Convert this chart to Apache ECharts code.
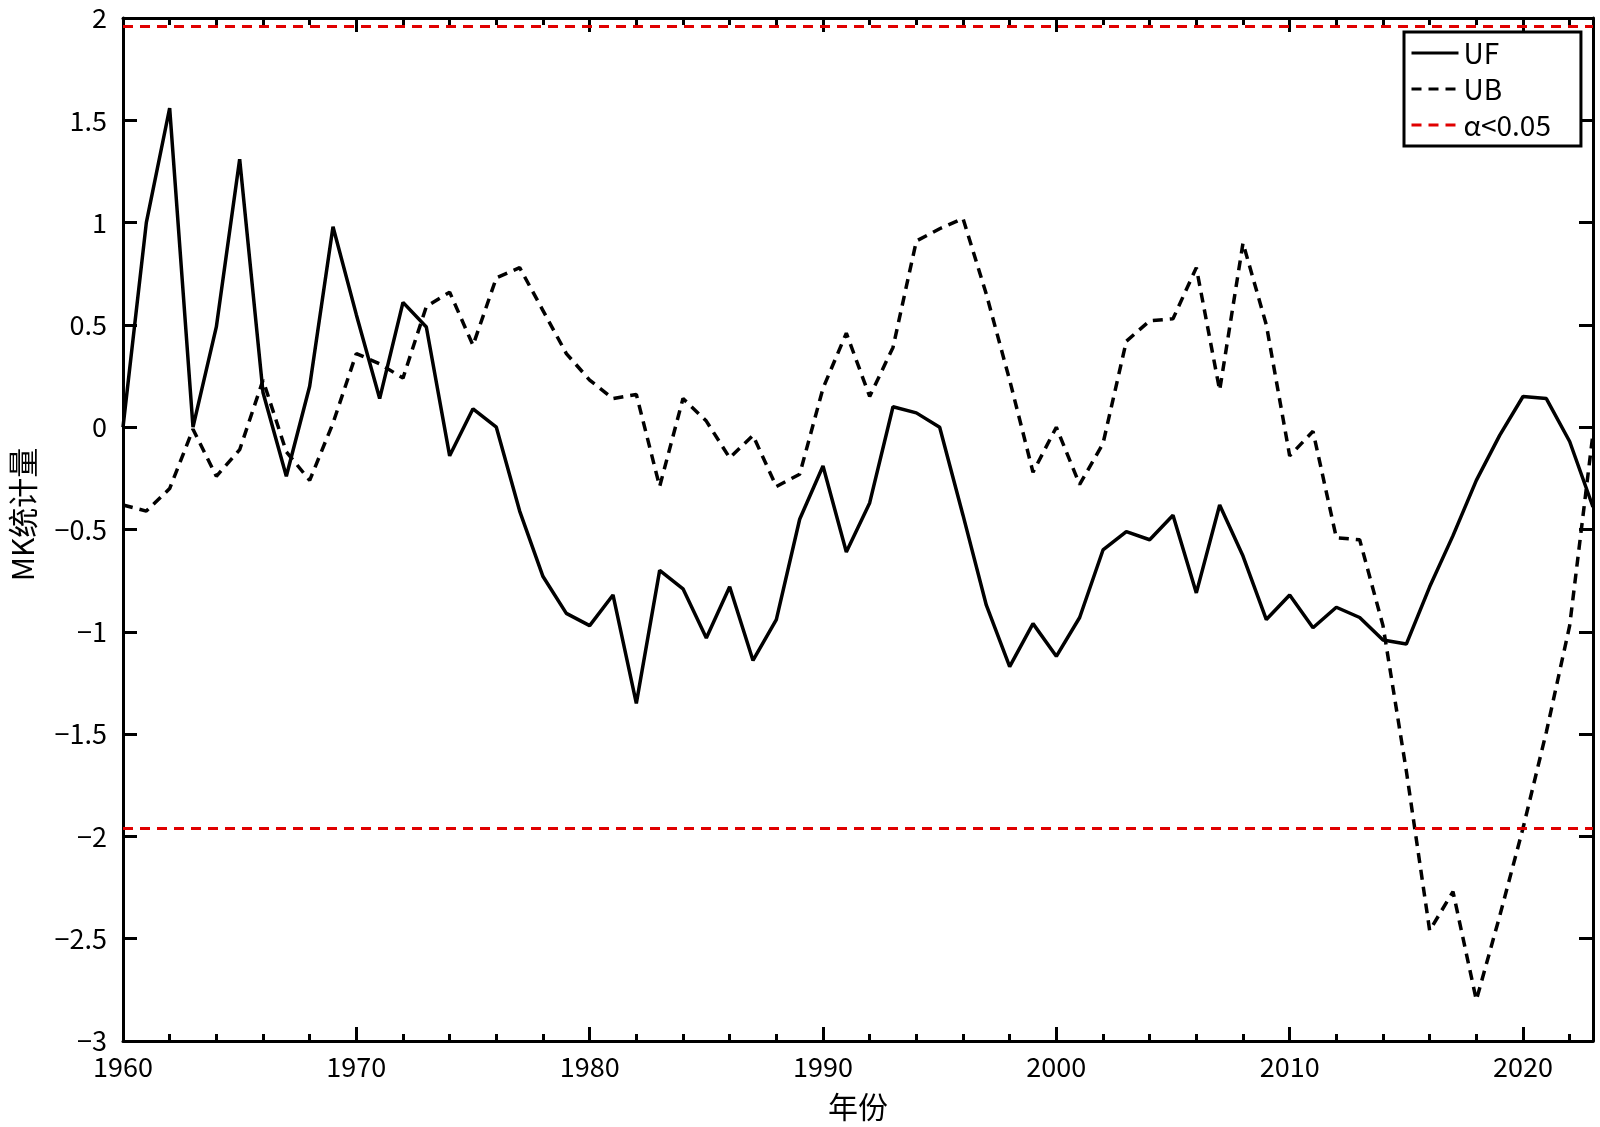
<!DOCTYPE html>
<html>
<head>
<meta charset="utf-8">
<title>MK</title>
<script src="https://cdn.jsdelivr.net/npm/echarts@6/dist/echarts.min.js"></script>
<style>
    html, body { margin: 0; padding: 0; background: #fff; }
    #chart { width: 1600px; height: 1127px; }
</style>
</head>
<body>
<div id="chart"></div>
<script>
    // 年份
    var years = [1960, 1961, 1962, 1963, 1964, 1965, 1966, 1967, 1968, 1969,
        1970, 1971, 1972, 1973, 1974, 1975, 1976, 1977, 1978, 1979,
        1980, 1981, 1982, 1983, 1984, 1985, 1986, 1987, 1988, 1989,
        1990, 1991, 1992, 1993, 1994, 1995, 1996, 1997, 1998, 1999,
        2000, 2001, 2002, 2003, 2004, 2005, 2006, 2007, 2008, 2009,
        2010, 2011, 2012, 2013, 2014, 2015, 2016, 2017, 2018, 2019,
        2020, 2021, 2022, 2023];
    // 正序列 UF
    var ufValues = [0, 1.00, 1.56, 0.00, 0.49, 1.31, 0.17, -0.24, 0.20, 0.98,
        0.55, 0.14, 0.61, 0.49, -0.14, 0.09, 0.00, -0.41, -0.73, -0.91,
        -0.97, -0.82, -1.35, -0.70, -0.79, -1.03, -0.78, -1.14, -0.94, -0.45,
        -0.19, -0.61, -0.37, 0.10, 0.07, 0.00, -0.43, -0.87, -1.17, -0.96,
        -1.12, -0.93, -0.60, -0.51, -0.55, -0.43, -0.81, -0.38, -0.63, -0.94,
        -0.82, -0.98, -0.88, -0.93, -1.04, -1.06, -0.78, -0.53, -0.26, -0.04,
        0.15, 0.14, -0.07, -0.39];
    // 逆序列 UB
    var ubValues = [-0.38, -0.41, -0.30, -0.01, -0.24, -0.11, 0.23, -0.12, -0.26, 0.02,
        0.36, 0.31, 0.24, 0.59, 0.66, 0.40, 0.73, 0.78, 0.57, 0.36,
        0.23, 0.14, 0.16, -0.29, 0.14, 0.03, -0.15, -0.04, -0.29, -0.23,
        0.19, 0.46, 0.15, 0.39, 0.91, 0.97, 1.02, 0.65, 0.23, -0.22,
        0.00, -0.28, -0.08, 0.42, 0.52, 0.53, 0.78, 0.18, 0.90, 0.50,
        -0.14, -0.02, -0.54, -0.55, -0.97, -1.68, -2.46, -2.27, -2.80, -2.39,
        -1.96, -1.49, -0.97, -0.03];
    // 显著性水平 α=0.05 临界值
    var alphaLines = [1.96, -1.96];

    var fontFamily = '"Noto Sans CJK SC", sans-serif';

    function pairs(xs, ys) {
        var out = [];
        for (var i = 0; i < xs.length; i++) {
            out.push([xs[i], ys[i]]);
        }
        return out;
    }

    function fmtY(v) {
        if (v < 0) {
            return '\u2212' + Math.abs(v);
        }
        return String(v);
    }

    var boxAxisLine = { show: true, onZero: false, lineStyle: { color: '#000', width: 3 } };
    var tickStyle = { color: '#000', width: 3 };

    var myChart = echarts.init(document.getElementById('chart'));
    myChart.setOption({
        animation: false,
        backgroundColor: '#fff',
        textStyle: { fontFamily: fontFamily },
        grid: {
            left: 117,
            right: 7,
            top: 18,
            bottom: 85
        },
        legend: {
            orient: 'vertical',
            left: 1404,
            top: 32,
            padding: [7, 30, 7, 6],
            itemWidth: 47,
            itemHeight: 14,
            itemGap: 8,
            borderColor: '#000',
            borderWidth: 3,
            backgroundColor: '#fff',
            itemStyle: { opacity: 0 },
            lineStyle: { width: 3 },
            textStyle: {
                fontFamily: fontFamily,
                fontSize: 28,
                color: '#000'
            },
            data: ['UF', 'UB', 'α<0.05']
        },
        xAxis: [{
            type: 'value',
            min: 1960,
            max: 2023,
            interval: 10,
            name: '年份',
            nameLocation: 'middle',
            nameGap: 51,
            nameTextStyle: { fontFamily: fontFamily, fontSize: 30, color: '#000' },
            axisLine: boxAxisLine,
            axisTick: { show: true, inside: true, length: 14, lineStyle: tickStyle },
            minorTick: { show: true, splitNumber: 5, length: 7, lineStyle: tickStyle },
            axisLabel: {
                margin: 12,
                fontFamily: fontFamily,
                fontSize: 27,
                color: '#000',
                showMaxLabel: false,
                formatter: function (v) { return String(v); }
            },
            splitLine: { show: false }
        }, {
            type: 'value',
            position: 'top',
            min: 1960,
            max: 2023,
            interval: 10,
            axisLine: boxAxisLine,
            axisTick: { show: true, inside: true, length: 14, lineStyle: tickStyle },
            minorTick: { show: true, splitNumber: 5, length: 7, lineStyle: tickStyle },
            axisLabel: { show: false },
            splitLine: { show: false }
        }],
        yAxis: [{
            type: 'value',
            min: -3,
            max: 2,
            interval: 0.5,
            name: 'MK统计量',
            nameLocation: 'middle',
            nameGap: 85,
            nameTextStyle: { fontFamily: fontFamily, fontSize: 30, color: '#000', padding: [0, 0, 0, 30] },
            axisLine: boxAxisLine,
            axisTick: { show: true, inside: true, length: 14, lineStyle: tickStyle },
            axisLabel: {
                margin: 16,
                fontFamily: fontFamily,
                fontSize: 27,
                color: '#000',
                formatter: fmtY
            },
            splitLine: { show: false }
        }, {
            type: 'value',
            position: 'right',
            min: -3,
            max: 2,
            interval: 0.5,
            axisLine: boxAxisLine,
            axisTick: { show: true, inside: true, length: 14, lineStyle: tickStyle },
            axisLabel: { show: false },
            splitLine: { show: false }
        }],
        series: [{
            name: 'UF',
            type: 'line',
            symbol: 'none',
            data: pairs(years, ufValues),
            lineStyle: { color: '#000', width: 3.5, type: 'solid' },
            itemStyle: { color: '#000' },
            z: 5
        }, {
            name: 'UB',
            type: 'line',
            symbol: 'none',
            data: pairs(years, ubValues),
            lineStyle: { color: '#000', width: 3.5, type: [10, 7] },
            itemStyle: { color: '#000' },
            z: 4
        }, {
            name: 'α<0.05',
            type: 'line',
            symbol: 'none',
            data: [],
            lineStyle: { color: '#e00000', width: 3, type: [10, 7] },
            itemStyle: { color: '#e00000' },
            markLine: {
                silent: true,
                symbol: 'none',
                label: { show: false },
                lineStyle: { color: '#e00000', width: 3, type: [10, 7] },
                data: alphaLines.map(function (v) { return { yAxis: v }; })
            },
            z: 3
        }]
    });
</script>
</body>
</html>
